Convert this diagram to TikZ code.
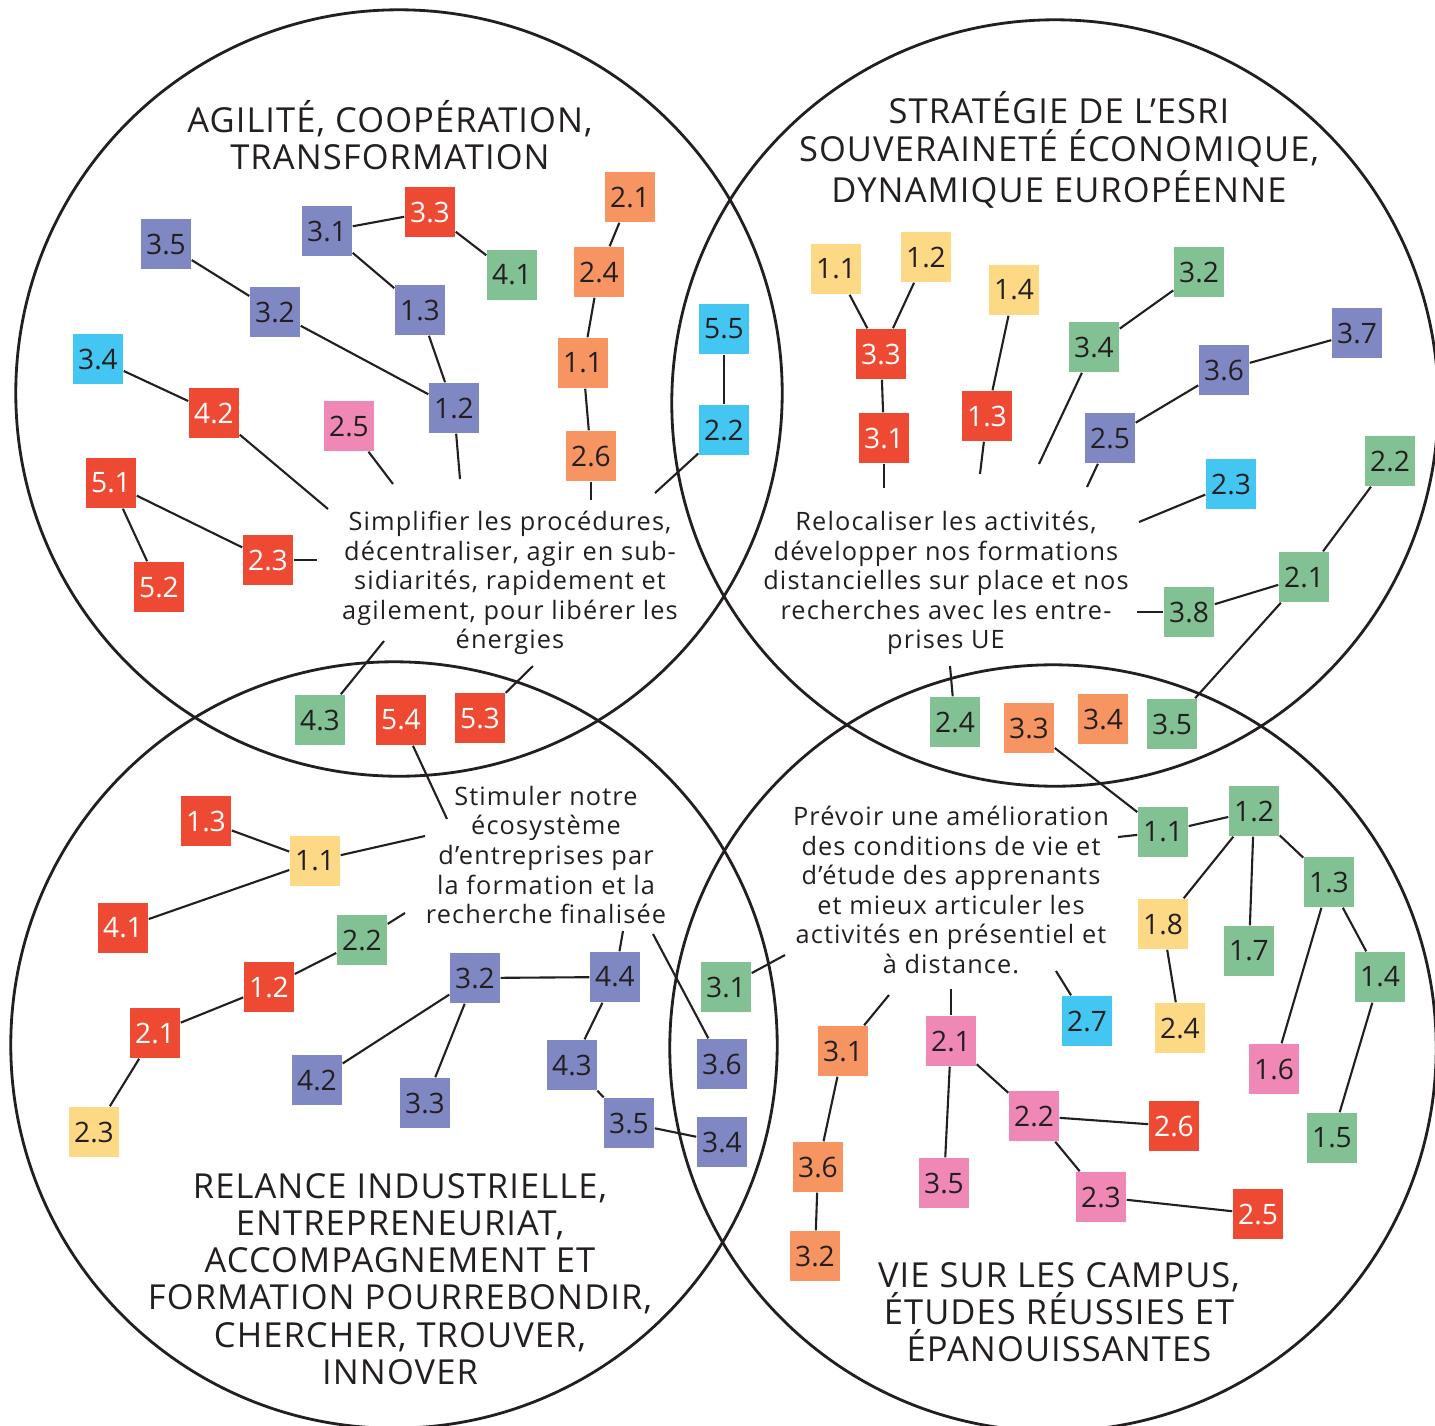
\documentclass[tikz,border=0pt]{standalone}
\usepackage{fontspec}
\setmainfont{Open Sans}
\newfontfamily\bodyfont[LetterSpace=4.5]{Open Sans}
\newfontfamily\titlefont[LetterSpace=3.2]{Open Sans}
\usetikzlibrary{positioning}
\definecolor{ink}{HTML}{231F20}
\definecolor{cpu}{HTML}{8088C4}
\definecolor{crd}{HTML}{EE4A33}
\definecolor{cgr}{HTML}{82C193}
\definecolor{cor}{HTML}{F79562}
\definecolor{cye}{HTML}{FDD985}
\definecolor{ccy}{HTML}{43C6F2}
\definecolor{cpk}{HTML}{F088B6}

\begin{document}
\begin{tikzpicture}[x=0.01cm,y=-0.01cm,
  sq/.style={minimum size=0.5cm,inner sep=0pt,font=\fontsize{8}{9}\selectfont,text=ink},
  pu/.style={sq,fill=cpu},
  rd/.style={sq,fill=crd,text=white},
  gr/.style={sq,fill=cgr},
  or/.style={sq,fill=cor},
  ye/.style={sq,fill=cye},
  cy/.style={sq,fill=ccy},
  pk/.style={sq,fill=cpk},
  txt/.style={align=center,inner sep=0pt,text=ink,font=\bodyfont\fontsize{7.2}{8.4}\selectfont},
  ttl/.style={align=center,inner sep=0pt,text=ink,font=\titlefont\fontsize{9.8}{10.6}\selectfont},
  every edge/.style={draw,line width=0.6pt,ink}]
\useasboundingbox (0,0) rectangle (1435,1426);
\draw[line width=0.8pt,ink] (399,393) circle[radius=3.83cm];
\draw[line width=0.8pt,ink] (1055,403) circle[radius=3.83cm];
\draw[line width=0.8pt,ink] (394,1045) circle[radius=3.83cm];
\draw[line width=0.8pt,ink] (1053,1048) circle[radius=3.83cm];

\node[ttl] (atitle) at (390,135) {AGILITÉ, COOPÉRATION,\\TRANSFORMATION};
\node[ttl] (btitle) at (1059,150) {STRATÉGIE DE L’ESRI\\SOUVERAINETÉ ÉCONOMIQUE,\\DYNAMIQUE EUROPÉENNE};
\node[ttl] (ctitle) at (400,1279) {RELANCE INDUSTRIELLE,\\ENTREPRENEURIAT,\\ACCOMPAGNEMENT ET\\FORMATION POURREBONDIR,\\CHERCHER, TROUVER,\\INNOVER};
\node[ttl] (dtitle) at (1059,1312) {VIE SUR LES CAMPUS,\\ÉTUDES RÉUSSIES ET\\ÉPANOUISSANTES};

\node[txt] (atext) at (510,583) {Simplifier les procédures,\\décentraliser, agir en sub-\\sidiarités, rapidement et\\agilement, pour libérer les\\énergies};
\node[txt] (btext) at (946,583) {Relocaliser les activités,\\développer nos formations\\distancielles sur place et nos\\recherches avec les entre-\\prises UE};
\node[txt] (ctext) at (546,855) {Stimuler notre\\écosystème\\d’entreprises par\\la formation et la\\recherche finalisée};
\node[txt] (dtext) at (951,890) {Prévoir une amélioration\\des conditions de vie et\\d’étude des apprenants\\et mieux articuler les\\activités en présentiel et\\à distance.};

\node[pu] (a35) at (166,244) {3.5};
\node[pu] (a31) at (327,231) {3.1};
\node[rd] (a33) at (430,212) {3.3};
\node[gr] (a41) at (512,275) {4.1};
\node[pu] (a32) at (275,312) {3.2};
\node[pu] (a13) at (420,310) {1.3};
\node[cy] (a34) at (98,359) {3.4};
\node[rd] (a42) at (214,413) {4.2};
\node[pu] (a12) at (454,408) {1.2};
\node[pk] (a25) at (349,426) {2.5};
\node[or] (a21) at (630,197) {2.1};
\node[or] (a24) at (599,272) {2.4};
\node[or] (a11) at (583,363) {1.1};
\node[or] (a26) at (591,456) {2.6};
\node[rd] (a51) at (111,483) {5.1};
\node[rd] (a52) at (159,587) {5.2};
\node[rd] (a23) at (268,560) {2.3};
\node[cy] (a55) at (724,329) {5.5};
\node[cy] (a22) at (724,430) {2.2};
\node[gr] (a43) at (320,720) {4.3};
\node[rd] (a54) at (401,720) {5.4};
\node[rd] (a53) at (480,718) {5.3};
\coordinate (a12e) at (460,479);
\coordinate (a42e) at (328,509);
\coordinate (a25e) at (393,484);
\coordinate (a26e) at (591,500);
\coordinate (a23e) at (317,560);
\coordinate (a22e) at (655,493);
\coordinate (a43e) at (384,641);
\coordinate (a53e) at (533,666);
\path (a31) edge (a33);
\path (a33) edge (a41);
\path (a31) edge (a13);
\path (a13) edge (a12);
\path (a35) edge (a32);
\path (a32) edge (a12);
\path (a12) edge (a12e);
\path (a34) edge (a42);
\path (a42) edge (a42e);
\path (a25) edge (a25e);
\path (a21) edge (a24);
\path (a24) edge (a11);
\path (a11) edge (a26);
\path (a26) edge (a26e);
\path (a51) edge (a23);
\path (a51) edge (a52);
\path (a23) edge (a23e);
\path (a55) edge (a22);
\path (a22) edge (a22e);
\path (a43e) edge (a43);
\path (a53e) edge (a53);

\node[ye] (b11) at (836,269) {1.1};
\node[ye] (b12) at (926,257) {1.2};
\node[rd] (b33) at (881,354) {3.3};
\node[rd] (b31) at (884,438) {3.1};
\node[ye] (b14) at (1014,290) {1.4};
\node[rd] (b13) at (987,416) {1.3};
\node[gr] (b32) at (1199,272) {3.2};
\node[gr] (b34) at (1094,347) {3.4};
\node[pu] (b37) at (1357,333) {3.7};
\node[pu] (b36) at (1224,370) {3.6};
\node[pu] (b25) at (1110,438) {2.5};
\node[cy] (b23) at (1231,484) {2.3};
\node[gr] (b22) at (1390,461) {2.2};
\node[gr] (b21) at (1304,577) {2.1};
\node[gr] (b38) at (1189,612) {3.8};
\node[gr] (b24) at (955,722) {2.4};
\node[or] (b33b) at (1029,728) {3.3};
\node[or] (b34b) at (1103,719) {3.4};
\node[gr] (b35) at (1172,724) {3.5};
\coordinate (b31e) at (884,488);
\coordinate (b13e) at (980,474);
\coordinate (b34e) at (1039,464);
\coordinate (b25e) at (1087,487);
\coordinate (b23e) at (1139,522);
\coordinate (b38e) at (1137,612);
\coordinate (b24e) at (950,666);
\path (b11) edge (b33);
\path (b12) edge (b33);
\path (b33) edge (b31);
\path (b31) edge (b31e);
\path (b14) edge (b13);
\path (b13) edge (b13e);
\path (b32) edge (b34);
\path (b34) edge (b34e);
\path (b37) edge (b36);
\path (b36) edge (b25);
\path (b25) edge (b25e);
\path (b23) edge (b23e);
\path (b22) edge (b21);
\path (b21) edge (b38);
\path (b38) edge (b38e);
\path (b21) edge (b35);
\path (b24e) edge (b24);

\node[rd] (c13) at (206,821) {1.3};
\node[ye] (c11) at (315,861) {1.1};
\node[rd] (c41) at (123,928) {4.1};
\node[gr] (c22) at (362,940) {2.2};
\node[rd] (c12) at (269,987) {1.2};
\node[rd] (c21) at (155,1033) {2.1};
\node[ye] (c23) at (94,1132) {2.3};
\node[pu] (c32) at (475,978) {3.2};
\node[pu] (c44) at (615,977) {4.4};
\node[pu] (c42) at (317,1080) {4.2};
\node[pu] (c33) at (425,1103) {3.3};
\node[pu] (c43) at (572,1065) {4.3};
\node[pu] (c35) at (629,1123) {3.5};
\node[pu] (c36) at (722,1064) {3.6};
\node[pu] (c34) at (722,1142) {3.4};
\coordinate (c54e) at (447,819);
\coordinate (c11e) at (425,836);
\coordinate (c22e) at (405,913);
\coordinate (c44e) at (623,931);
\coordinate (c36e) at (653,934);
\path (a54) edge (c54e);
\path (c13) edge (c11);
\path (c11) edge (c11e);
\path (c41) edge (c11);
\path (c23) edge (c21);
\path (c21) edge (c12);
\path (c12) edge (c22);
\path (c22) edge (c22e);
\path (c42) edge (c32);
\path (c32) edge (c33);
\path (c32) edge (c44);
\path (c44) edge (c44e);
\path (c44) edge (c43);
\path (c43) edge (c35);
\path (c35) edge (c34);
\path (c36) edge (c36e);

\node[gr] (d31g) at (726,987) {3.1};
\node[gr] (d11) at (1163,832) {1.1};
\node[gr] (d12) at (1254,811) {1.2};
\node[gr] (d13) at (1329,882) {1.3};
\node[ye] (d18) at (1163,924) {1.8};
\node[gr] (d17) at (1249,951) {1.7};
\node[gr] (d14) at (1380,977) {1.4};
\node[ye] (d24) at (1180,1028) {2.4};
\node[pk] (d16) at (1274,1069) {1.6};
\node[gr] (d15) at (1332,1138) {1.5};
\node[cy] (d27) at (1087,1021) {2.7};
\node[or] (d31) at (843,1051) {3.1};
\node[pk] (d21) at (951,1041) {2.1};
\node[or] (d36) at (818,1167) {3.6};
\node[or] (d32) at (815,1256) {3.2};
\node[pk] (d35) at (944,1183) {3.5};
\node[pk] (d22) at (1034,1116) {2.2};
\node[rd] (d26) at (1174,1126) {2.6};
\node[pk] (d23) at (1101,1197) {2.3};
\node[rd] (d25) at (1258,1214) {2.5};
\coordinate (d31ge) at (785,955);
\coordinate (d11e) at (1118,837);
\coordinate (d27e) at (1056,971);
\coordinate (d31e) at (889,995);
\coordinate (d21e) at (951,989);
\path (d31g) edge (d31ge);
\path (b33b) edge (d11);
\path (d11) edge (d11e);
\path (d11) edge (d12);
\path (d12) edge (d18);
\path (d12) edge (d17);
\path (d12) edge (d13);
\path (d13) edge (d16);
\path (d13) edge (d14);
\path (d14) edge (d15);
\path (d18) edge (d24);
\path (d27) edge (d27e);
\path (d31) edge (d31e);
\path (d31) edge (d36);
\path (d36) edge (d32);
\path (d21) edge (d21e);
\path (d21) edge (d35);
\path (d21) edge (d22);
\path (d22) edge (d26);
\path (d22) edge (d23);
\path (d23) edge (d25);
\end{tikzpicture}
\end{document}
